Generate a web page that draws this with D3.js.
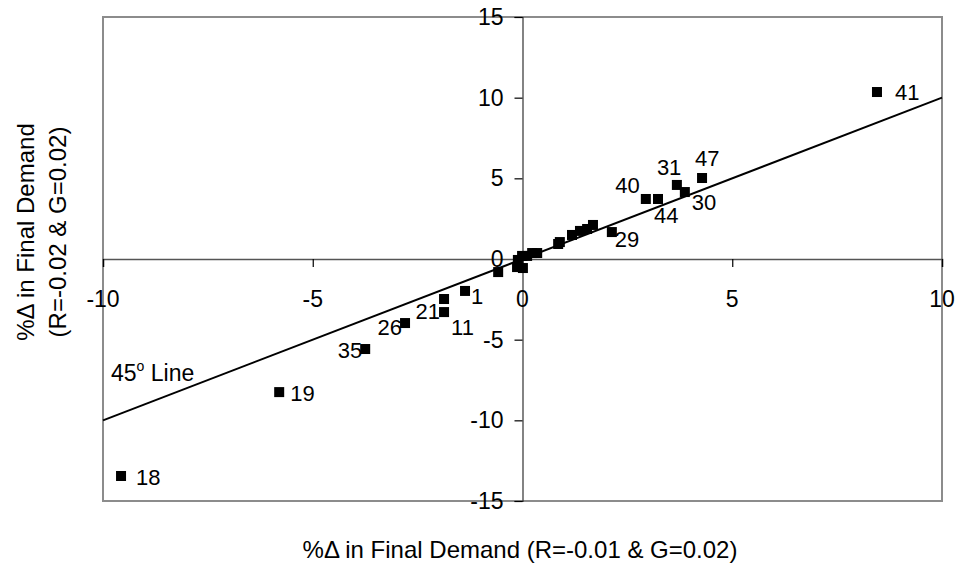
<!DOCTYPE html>
<html>
<head>
<meta charset="utf-8">
<script src="https://cdn.jsdelivr.net/npm/d3@7"></script>
<style>
  body { margin: 0; background: #fff; }
  text { font-family: "Liberation Sans", Arial, sans-serif; fill: #000; }
</style>
</head>
<body>
<svg id="chart" width="961" height="567"></svg>
<script>
// values
var xValues = [8.45, 4.28, 3.68, 3.87, 3.23, 2.94, 2.13, 1.68, 1.54, 1.37, 1.18, 0.89, 0.85,
               0.35, 0.23, 0.11, -0.01, -0.11, -0.13, 0.01, -0.58, -1.37, -1.87, -1.87,
               -2.8, -3.75, -5.8, -9.57];
var yValues = [10.35, 5.02, 4.59, 4.15, 3.72, 3.72, 1.67, 2.11, 1.86, 1.74, 1.49, 1.05, 0.93,
               0.37, 0.37, 0.19, 0.19, -0.06, -0.5, -0.56, -0.81, -1.98, -2.48, -3.29,
               -3.97, -5.58, -8.25, -13.45];
var pointLabels = ["41", "47", "31", "30", "44", "40", "29", "", "", "", "", "", "",
                   "", "", "", "", "", "", "", "", "1", "21", "11",
                   "26", "35", "19", "18"];
var xTicks = [-10, -5, 0, 5, 10];
var yTicks = [-15, -10, -5, 0, 5, 10, 15];
var lineX = [-10, 10];

// label placement: [dx, dy, anchor]
var labelPlace = {
  "41": [18, 8, "start"], "47": [-7, -12, "start"], "31": [-20, -10, "start"],
  "30": [7, 18, "start"], "44": [-4, 24, "start"], "40": [-6, -6, "end"],
  "29": [3, 15, "start"], "1": [6, 13, "start"], "21": [-4, 20, "end"],
  "11": [7, 23, "start"], "26": [-3, 12, "end"], "35": [-3, 9, "end"],
  "19": [11, 9, "start"], "18": [15, 9, "start"]
};

var svg = d3.select('#chart');
var plotLeft = 103, plotRight = 942, plotTop = 17, plotBottom = 501;

var x = d3.scaleLinear().domain([-10, 10]).range([plotLeft, plotRight]);
var y = d3.scaleLinear().domain([-15, 15]).range([plotBottom, plotTop]);

var points = xValues.map(function(v, i) { return {x: v, y: yValues[i], label: pointLabels[i]}; });

// frame
svg.append('rect')
   .attr('x', plotLeft).attr('y', plotTop)
   .attr('width', plotRight - plotLeft).attr('height', plotBottom - plotTop)
   .style('fill', 'none').style('stroke', '#8c8c8c').style('stroke-width', 2);

// axes through the origin
var xAxis = d3.axisBottom(x).tickValues(xTicks).tickSize(8).tickFormat('');
var yAxis = d3.axisLeft(y).tickValues(yTicks).tickSize(8).tickFormat('');

var gx = svg.append('g').attr('transform', 'translate(0,' + y(0) + ')').call(xAxis);
var gy = svg.append('g').attr('transform', 'translate(' + x(0) + ',0)').call(yAxis);
gx.select('.domain').style('stroke', '#555').style('stroke-width', 1.5);
gy.select('.domain').style('stroke', '#333').style('stroke-width', 1.2);
svg.selectAll('.tick line').style('stroke', '#000').style('stroke-width', 1.2);

// tick labels
svg.append('g').selectAll('text').data(xTicks).enter().append('text')
   .attr('x', function(d) { return x(d); })
   .attr('y', y(0) + 48)
   .attr('text-anchor', 'middle')
   .style('font-size', '23px')
   .text(function(d) { return d; });

svg.append('g').selectAll('text').data(yTicks).enter().append('text')
   .attr('x', x(0) - 19)
   .attr('y', function(d) { return y(d) + 8; })
   .attr('text-anchor', 'end')
   .style('font-size', '23px')
   .text(function(d) { return d; });

// 45 degree line
svg.append('line')
   .attr('x1', x(lineX[0])).attr('y1', y(lineX[0]))
   .attr('x2', x(lineX[1])).attr('y2', y(lineX[1]))
   .style('stroke', '#000').style('stroke-width', 2);

var lineLabel = svg.append('text').attr('x', 111).attr('y', 381).style('font-size', '23px');
lineLabel.append('tspan').text('45');
lineLabel.append('tspan').attr('dy', -10).style('font-size', '14px').text('o');
lineLabel.append('tspan').attr('dy', 10).text(' Line');

// markers
svg.append('g').selectAll('rect').data(points).enter().append('rect')
   .attr('x', function(d) { return x(d.x) - 5; })
   .attr('y', function(d) { return y(d.y) - 5; })
   .attr('width', 10).attr('height', 10)
   .style('fill', '#000');

// point labels
svg.append('g').selectAll('text')
   .data(points.filter(function(d) { return d.label !== ''; }))
   .enter().append('text')
   .attr('x', function(d) { return x(d.x) + labelPlace[d.label][0]; })
   .attr('y', function(d) { return y(d.y) + labelPlace[d.label][1]; })
   .attr('text-anchor', function(d) { return labelPlace[d.label][2]; })
   .style('font-size', '22px')
   .text(function(d) { return d.label; });

// axis titles
svg.append('text')
   .attr('x', 520).attr('y', 558)
   .attr('text-anchor', 'middle')
   .style('font-size', '24px')
   .text('%\u0394 in Final Demand (R=-0.01 & G=0.02)');

var yt = svg.append('text')
   .attr('transform', 'translate(0,232) rotate(-90)')
   .attr('text-anchor', 'middle')
   .style('font-size', '24px');
yt.append('tspan').attr('x', 0).attr('y', 34).text('%\u0394 in Final Demand');
yt.append('tspan').attr('x', 0).attr('y', 66).text('(R=-0.02 & G=0.02)');
</script>
</body>
</html>
